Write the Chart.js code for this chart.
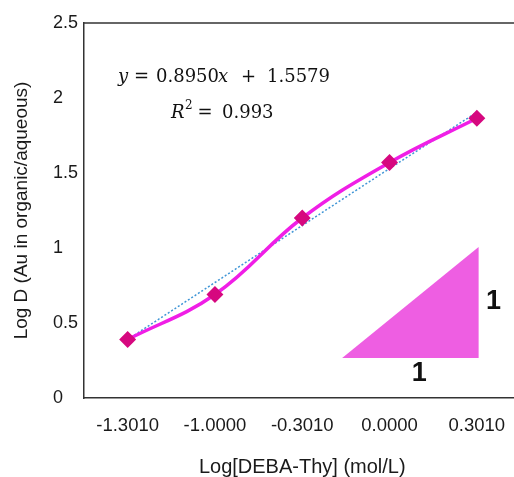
<!DOCTYPE html>
<html><head><meta charset="utf-8">
<script src="https://cdn.jsdelivr.net/npm/chart.js@4.4.1/dist/chart.umd.min.js"></script>
<style>
html,body{margin:0;padding:0;background:#fff;overflow:hidden;}
#wrap{position:relative;width:530px;height:477px;}
</style></head>
<body><div id="wrap"><canvas id="c"></canvas></div>
<script>
const categories = ['-1.3010','-1.0000','-0.3010','0.0000','0.3010'];
const logD = [0.39, 0.69, 1.20, 1.57, 1.865];
const trend = [0.39, 0.77, 1.15, 1.53, 1.905];
const yTickLabels = ['0','0.5','1','1.5','2','2.5'];

const SANS = '"Liberation Sans", Arial, sans-serif';
const SERIF = '"DejaVu Serif", "Liberation Serif", serif';

const overlay = {
  id:'overlay',
  beforeDatasetsDraw(chart){
    const {ctx, chartArea:a, scales:{x,y}} = chart;
    ctx.save();
    // top border
    ctx.strokeStyle='#333'; ctx.lineWidth=1.5;
    ctx.beginPath(); ctx.moveTo(a.left, a.top); ctx.lineTo(a.right+10, a.top); ctx.stroke();
    // slope triangle
    const xl = x.getPixelForValue(2.457), xr = x.getPixelForValue(4.02);
    const yb = y.getPixelForValue(0.267), yt = y.getPixelForValue(1.007);
    ctx.fillStyle='#ee5ee2';
    ctx.beginPath(); ctx.moveTo(xl,yb); ctx.lineTo(xr,yt); ctx.lineTo(xr,yb); ctx.closePath(); ctx.fill();
    ctx.fillStyle='#111'; ctx.font='bold 27px ' + SANS;
    ctx.textAlign='center'; ctx.textBaseline='middle';
    ctx.fillText('1', xr+15, y.getPixelForValue(0.64));
    ctx.fillText('1', x.getPixelForValue(3.34), y.getPixelForValue(0.16));
    // equation
    ctx.fillStyle='#111'; ctx.textBaseline='alphabetic';
    const put = (t, px, py, opts={}) => {
      ctx.font = (opts.it?'italic ':'') + (opts.size||18) + 'px ' + SERIF;
      ctx.textAlign = opts.align || 'left';
      ctx.fillText(t, px, py);
    };
    put('y', 118, 82, {it:1});
    put('=', 141.5, 82, {align:'center'});
    put('0.8950', 156, 82);
    put('x', 218, 82, {it:1});
    put('+', 248.5, 82, {align:'center'});
    put('1.5579', 267, 82);
    put('R', 171, 118, {it:1});
    put('2', 185, 109, {size:12});
    put('=', 205, 118, {align:'center'});
    put('0.993', 222, 118);
    ctx.restore();
  }
};

new Chart(document.getElementById('c'), {
  type:'line',
  data:{labels:categories, datasets:[
    {data:logD, yAxisID:'y', xAxisID:'x', borderColor:'#f01ee6', borderWidth:3.5, tension:0.4,
     pointStyle:'rectRot', pointRadius:6, pointBackgroundColor:'#d6087f', pointBorderColor:'#d6087f', order:1},
    {data:trend, yAxisID:'y', xAxisID:'x', borderColor:'#3f95d6', borderWidth:1.5, borderDash:[2,2], pointRadius:0, tension:0, order:2}
  ]},
  options:{
    responsive:true, maintainAspectRatio:false, animation:false,
    layout:{padding:{left:0,right:8,top:23,bottom:0}},
    plugins:{legend:{display:false}, tooltip:{enabled:false}},
    scales:{
      x:{offset:true, grid:{display:false, drawTicks:false},
         border:{color:'#333', width:1.5},
         ticks:{color:'#1a1a1a', font:{family:SANS, size:18.5}, padding:17},
         title:{display:true, text:'Log[DEBA-Thy] (mol/L)', color:'#1a1a1a', font:{family:SANS, size:20}, padding:{top:0,bottom:-2}},
         afterFit(s){ s.height = 79; }},
      y:{position:'left', weight:0, min:0, max:2.5, grid:{display:false, drawTicks:false},
         border:{color:'#333', width:1.5},
         ticks:{stepSize:0.5, color:'#1a1a1a', font:{family:SANS, size:18}, padding:4, crossAlign:'far',
           callback:(v,i)=>yTickLabels[i]},
         afterFit(s){ s.width = 31; }},
      yTitle:{position:'left', weight:1, display:true, min:0, max:1,
         grid:{display:false, drawTicks:false}, border:{display:false},
         ticks:{display:false},
         title:{display:true, text:'Log D (Au in organic/aqueous)', color:'#1a1a1a', font:{family:SANS, size:19}, padding:{top:10,bottom:0}},
         afterFit(s){ s.width = 53; }}
    }
  },
  plugins:[overlay]
});
</script></body></html>
